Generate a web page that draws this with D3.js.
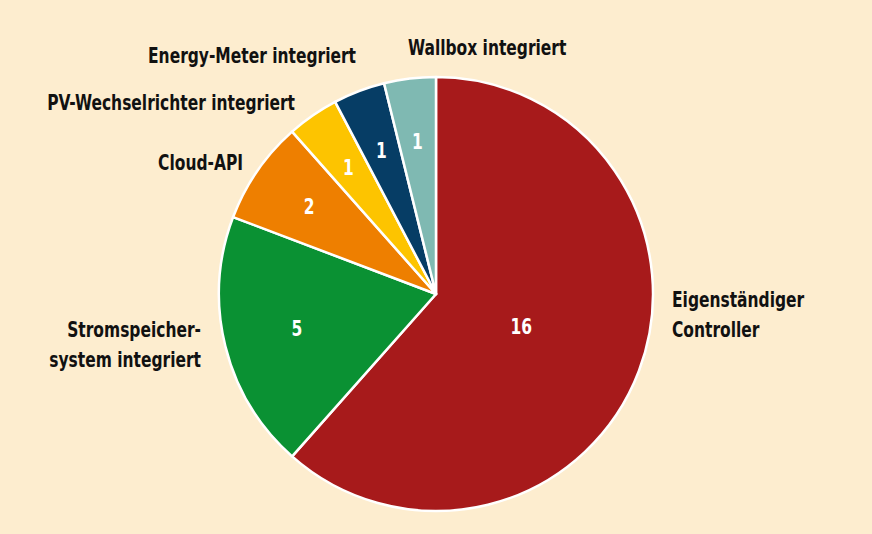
<!DOCTYPE html>
<html>
<head>
<meta charset="utf-8">
<script src="https://cdn.jsdelivr.net/npm/d3@7"></script>
<style>
  html, body { margin: 0; padding: 0; background: #fdedcf; }
  svg { display: block; }
  text { font-family: "DejaVu Sans Condensed", "Liberation Sans Narrow", sans-serif; }
</style>
</head>
<body>
<svg id="chart" width="872" height="534"></svg>
<script>
// data
const categories = ["Eigenständiger Controller", "Stromspeicher-system integriert", "Cloud-API",
                    "PV-Wechselrichter integriert", "Energy-Meter integriert", "Wallbox integriert"]
const values = [16, 5, 2, 1, 1, 1]
const colors = ["#a71a1b", "#0a9133", "#ee7f00", "#fdc400", "#063d65", "#7fb9b2"]
// label lines (split by hand like the original)
const labelLines = [["Eigenständiger", "Controller"], ["Stromspeicher-", "system integriert"], ["Cloud-API"],
                    ["PV-Wechselrichter integriert"], ["Energy-Meter integriert"], ["Wallbox integriert"]]

const cx = 436, cy = 294, radius = 217
const squeeze = 0.82   // fake a condensed face

const svg = d3.select("#chart")
const g = svg.append("g").attr("transform", `translate(${cx}, ${cy})`)

const data = categories.map((c, i) => ({name: c, value: values[i], color: colors[i], lines: labelLines[i]}))

const pie = d3.pie().value(d => d.value).sort(null)
const arcs = pie(data)
const arc = d3.arc().innerRadius(0).outerRadius(radius)

g.selectAll("path.slice")
  .data(arcs)
  .enter().append("path")
  .attr("class", "slice")
  .attr("d", arc)
  .attr("fill", d => d.data.color)
  .attr("stroke", "#ffffff")
  .attr("stroke-width", 2.5)
  .attr("stroke-linejoin", "round")

//value labels: bigger slices nearer the middle
const labelArc = r => d3.arc().innerRadius(r).outerRadius(r)
const bigArc = labelArc(radius * 0.42), midArc = labelArc(radius * 0.66), smallArc = labelArc(radius * 0.71)
g.selectAll("text.val")
  .data(arcs)
  .enter().append("text")
  .attr("class", "val")
  .attr("transform", d => {
      const v = d.data.value
      const c = v >= 10 ? bigArc.centroid(d) : v >= 3 ? midArc.centroid(d) : smallArc.centroid(d)
      return `translate(${c[0]}, ${c[1]}) scale(${squeeze}, 1)`
  })
  .attr("text-anchor", "middle")
  .attr("dy", "0.36em")
  .attr("fill", "#ffffff")
  .attr("font-size", 21)
  .attr("font-weight", "bold")
  .text(d => d.data.value)

// outside labels, placed around the pie
const labelPos = [
  {x: 236, y: 13, anchor: "start"},
  {x: -235, y: 43, anchor: "end"},
  {x: -193, y: -124, anchor: "end"},
  {x: -141, y: -184, anchor: "end"},
  {x: -80, y: -231, anchor: "end"},
  {x: -28, y: -239, anchor: "start"}
]
const labels = g.selectAll("text.lbl")
  .data(arcs)
  .enter().append("text")
  .attr("class", "lbl")
  .attr("transform", (d, i) => `translate(${labelPos[i].x}, ${labelPos[i].y}) scale(${squeeze}, 1)`)
  .attr("text-anchor", (d, i) => labelPos[i].anchor)
  .attr("fill", "#111111")
  .attr("font-size", 21)
  .attr("font-weight", "bold")

labels.selectAll("tspan")
  .data(d => d.data.lines)
  .enter().append("tspan")
  .attr("x", 0)
  .attr("dy", (d, j) => j === 0 ? 0 : 30)
  .text(d => d)
</script>
</body>
</html>
